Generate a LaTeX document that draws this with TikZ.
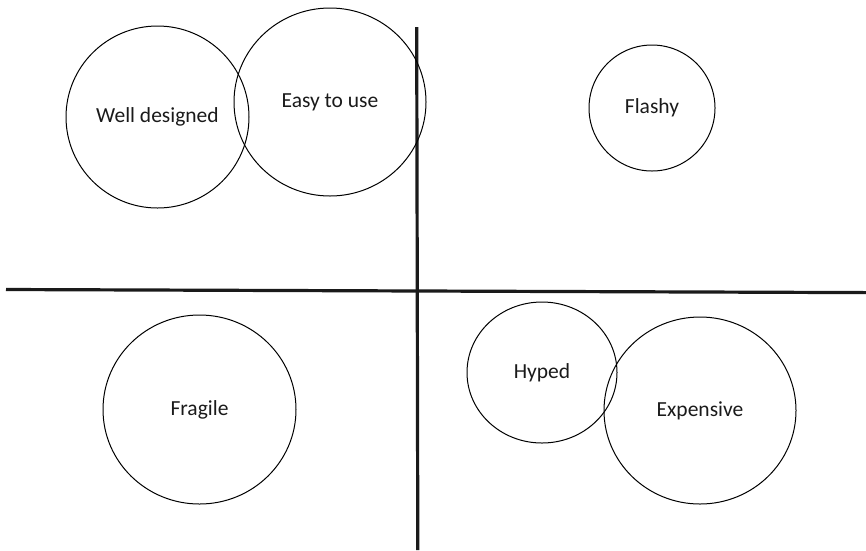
\documentclass[tikz,border=0pt]{standalone}
\usepackage{fontspec}
\setmainfont{Carlito}
\usetikzlibrary{shapes.geometric}
\definecolor{ink}{HTML}{1A1A1A}
\tikzset{
  blob/.style={draw=black, line width=1pt, ellipse, inner sep=0pt, text=ink, font=\fontsize{21.5}{25}\selectfont},
  axis/.style={draw=ink, line width=3.2pt}
}
\begin{document}
\begin{tikzpicture}[x=1pt, y=-1pt]
\useasboundingbox (0,0) rectangle (866,550);
\coordinate (vt) at (416.7,27);
\coordinate (vb) at (417.8,550);
\coordinate (hl) at (6,289.5);
\coordinate (hr) at (866,292.6);
\draw[axis] (vt) -- (vb);
\draw[axis] (hl) -- (hr);
\node[blob, minimum width=183pt, minimum height=182pt] (well) at (157.5,117) {Well designed};
\node[blob, minimum width=192pt, minimum height=188pt] (easy) at (330,102) {Easy to use};
\node[blob, minimum width=126pt, minimum height=126pt] (flashy) at (652,108) {Flashy};
\node[blob, minimum width=193pt, minimum height=189pt] (fragile) at (199.5,409.5) {Fragile};
\node[blob, minimum width=150pt, minimum height=141pt] (hyped) at (542,372.5) {Hyped};
\node[blob, minimum width=192pt, minimum height=187pt] (exp) at (700,410.5) {Expensive};
\end{tikzpicture}
\end{document}
